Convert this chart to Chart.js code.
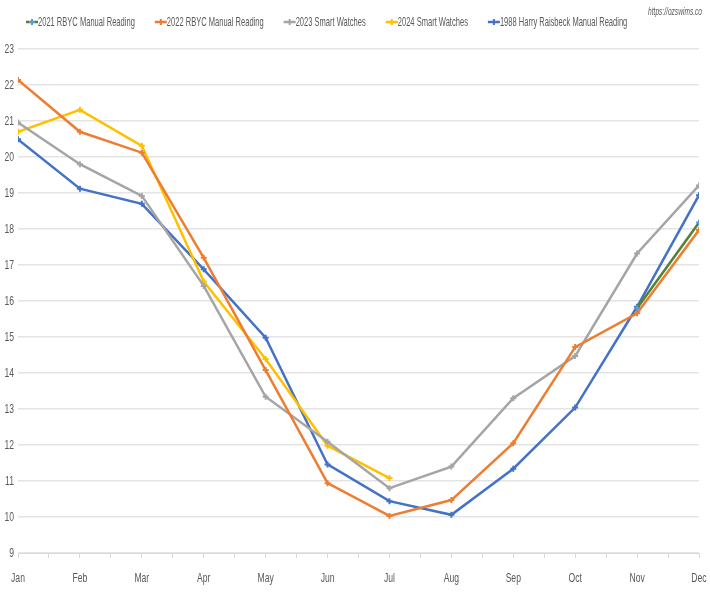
<!DOCTYPE html>
<html>
<head>
<meta charset="utf-8">
<script src="https://cdn.jsdelivr.net/npm/chart.js@4.4.1/dist/chart.umd.min.js"></script>
<style>
  html, body { margin: 0; padding: 0; background: #fff; }
  #wrap { width: 710px; height: 595px; }
</style>
</head>
<body>
<div id="wrap"><canvas id="c" width="710" height="595"></canvas></div>
<script>
// month labels
const months = ['Jan','Feb','Mar','Apr','May','Jun','Jul','Aug','Sep','Oct','Nov','Dec'];

// water temps (deg C)
const rbyc2021 = [null, null, null, null, null, null, null, null, null, null, 15.8, 18.18];
const rbyc2022 = [22.14, 20.70, 20.12, 17.20, 14.08, 10.94, 10.03, 10.47, 12.05, 14.72, 15.66, 17.97];
const watches2023 = [20.96, 19.80, 18.92, 16.42, 13.34, 12.09, 10.80, 11.40, 13.30, 14.47, 17.32, 19.21];
const watches2024 = [20.70, 21.31, 20.31, 16.54, 14.39, 11.98, 11.08, null, null, null, null, null];
const harry1988 = [20.49, 19.12, 18.70, 16.88, 14.98, 11.46, 10.44, 10.06, 11.34, 13.04, 15.84, 18.94];

const yTicks = [9, 10, 11, 12, 13, 14, 15, 16, 17, 18, 19, 20, 21, 22, 23];

const FONT = "'Liberation Sans', Arial, sans-serif";
const TXT = '#595959';

function pts(arr) {
  return arr.map((v, i) => ({ x: i, y: v }));
}

function series(label, arr, color, markColor) {
  return {
    label,
    data: pts(arr),
    borderColor: color,
    backgroundColor: markColor || color,
    pointBorderColor: markColor || color,
    pointStyle: 'cross',
    pointRadius: 3,
    pointBorderWidth: 2,
    borderWidth: 2.5,
    tension: 0,
    spanGaps: false
  };
}

// the original uses a narrow font, fake it by squeezing
function narrowText(ctx, str, x, y, align, sq) {
  const w = ctx.measureText(str).width * sq;
  let left = x;
  if (align === 'center') left = x - w / 2;
  if (align === 'right') left = x - w;
  ctx.save();
  ctx.translate(left, y);
  ctx.scale(sq, 1);
  ctx.textAlign = 'left';
  ctx.fillText(str, 0, 0);
  ctx.restore();
  return w;
}

// legend, axis labels and credit drawn by hand
const extras = {
  id: 'extras',
  afterDraw(chart) {
    const { ctx, scales } = chart;
    ctx.save();
    ctx.fillStyle = TXT;
    ctx.textBaseline = 'middle';

    // legend
    ctx.font = '13px ' + FONT;
    const markW = 12, gap = 20;
    let x = 26;
    const y = 22;
    chart.data.datasets.forEach(ds => {
      ctx.strokeStyle = ds.borderColor;
      ctx.lineWidth = 2.5;
      ctx.beginPath(); ctx.moveTo(x, y); ctx.lineTo(x + markW, y); ctx.stroke();
      ctx.strokeStyle = ds.pointBorderColor;
      ctx.lineWidth = 2;
      ctx.beginPath();
      ctx.moveTo(x + markW / 2, y - 3); ctx.lineTo(x + markW / 2, y + 3);
      ctx.moveTo(x + markW / 2 - 3, y); ctx.lineTo(x + markW / 2 + 3, y);
      ctx.stroke();
      const w = narrowText(ctx, ds.label, x + markW, y, 'left', 0.58);
      x += markW + w + gap;
    });

    // y labels
    ctx.font = '13px ' + FONT;
    yTicks.forEach(v => {
      narrowText(ctx, String(v), 14, scales.y.getPixelForValue(v), 'right', 0.66);
    });
    // x labels
    months.forEach((m, i) => {
      narrowText(ctx, m, scales.x.getPixelForValue(i), 578, 'center', 0.66);
    });

    // site credit, top right
    ctx.font = 'italic 10px ' + FONT;
    narrowText(ctx, 'https://ozswims.co', 702, 12, 'right', 0.66);
    ctx.restore();
  }
};

new Chart(document.getElementById('c'), {
  type: 'line',
  data: {
    datasets: [
      series('2021 RBYC Manual Reading', rbyc2021, '#548235', '#5B9BD5'),
      series('2022 RBYC Manual Reading', rbyc2022, '#ED7D31'),
      series('2023 Smart Watches', watches2023, '#A5A5A5'),
      series('2024 Smart Watches', watches2024, '#FFC000'),
      series('1988 Harry Raisbeck Manual Reading', harry1988, '#4472C4')
    ]
  },
  options: {
    responsive: false,
    animation: false,
    layout: { padding: { top: 49, right: 11, left: 0, bottom: 0 } },
    plugins: {
      legend: { display: false },
      tooltip: { enabled: false }
    },
    scales: {
      x: {
        type: 'linear',
        min: 0,
        max: 11,
        afterBuildTicks(axis) {
          const t = [];
          for (let i = 0; i <= 22; i++) t.push({ value: i / 2 });
          axis.ticks = t;
        },
        afterFit(axis) { axis.height = 42; },
        ticks: {
          autoSkip: false,
          maxRotation: 0,
          display: false
        },
        grid: {
          drawOnChartArea: false,
          drawTicks: true,
          tickLength: 5,
          color: '#D9D9D9'
        },
        border: { color: '#D9D9D9', width: 1 }
      },
      y: {
        min: 9,
        max: 23,
        afterBuildTicks(axis) {
          axis.ticks = yTicks.map(v => ({ value: v }));
        },
        afterFit(axis) { axis.width = 18; },
        ticks: { display: false },
        grid: {
          color: '#E4E4E4',
          lineWidth: 1.5,
          drawTicks: false
        },
        border: { display: false }
      }
    }
  },
  plugins: [extras]
});
</script>
</body>
</html>
